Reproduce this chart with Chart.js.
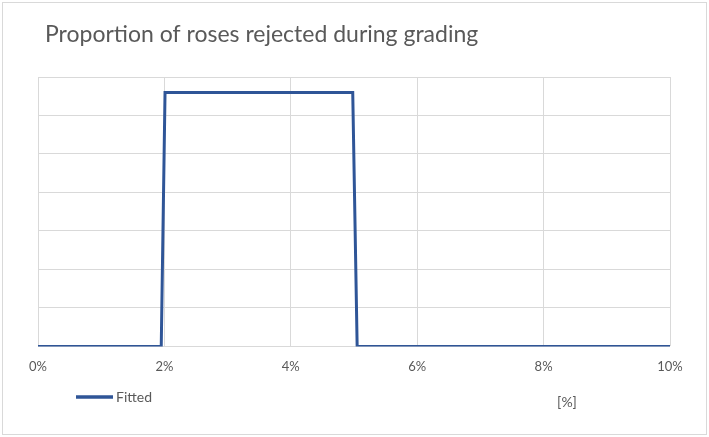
<!DOCTYPE html>
<html>
<head>
<meta charset="utf-8">
<script src="https://cdn.jsdelivr.net/npm/chart.js@4.4.0/dist/chart.umd.min.js"></script>
<style>
  html, body { margin: 0; padding: 0; background: #fff; }
  #wrap { width: 709px; height: 437px; }
</style>
</head>
<body>
<div id="wrap"><canvas id="roseChart" width="709" height="437"></canvas></div>
<script>
// data
const chartTitle = 'Proportion of roses rejected during grading';
const seriesName = 'Fitted';
const xTitle = '[%]';
const fittedX = [0, 1.95, 2.01, 4.98, 5.05, 10];   // %
const fittedY = [0, 0, 33, 33, 0, 0];
const xMin = 0, xMax = 10, xStep = 2;
const yMin = 0, yMax = 35, yStep = 5;

const textColor = '#595959';
const gridColor = '#d9d9d9';
const lineColor = '#2F5597';
const fontFamily = 'Lato, "Open Sans", sans-serif';

const points = fittedX.map((x, i) => ({ x: x, y: fittedY[i] }));

// frame, title, legend and axis title drawn by hand
const decorations = {
  id: 'decorations',
  beforeDraw(chart) {
    const c = chart.ctx;
    c.save();
    c.fillStyle = '#fff';
    c.fillRect(0, 0, chart.width, chart.height);
    c.strokeStyle = gridColor;
    c.lineWidth = 1;
    c.strokeRect(2.5, 2.5, chart.width - 5, chart.height - 5);
    c.restore();
  },
  afterDraw(chart) {
    const c = chart.ctx;
    const area = chart.chartArea;
    c.save();
    // title
    c.fillStyle = textColor;
    c.font = '23px ' + fontFamily;
    c.textAlign = 'left';
    c.textBaseline = 'middle';
    c.fillText(chartTitle, area.left + 7, 35);

    // legend
    const ds = chart.data.datasets[0];
    const ly = 397;
    c.strokeStyle = ds.borderColor;
    c.lineWidth = 3.5;
    c.beginPath();
    c.moveTo(area.left + 38, ly);
    c.lineTo(area.left + 75, ly);
    c.stroke();
    c.font = '14px ' + fontFamily;
    c.fillText(ds.label, area.left + 78, ly);

    // axis title
    c.textAlign = 'center';
    c.fillText(xTitle, 567, 402);
    c.restore();
  }
};

const chart = new Chart(document.getElementById('roseChart'), {
  type: 'scatter',
  data: {
    datasets: [{
      label: seriesName,
      data: points,
      showLine: true,
      borderColor: lineColor,
      backgroundColor: lineColor,
      borderWidth: 3,
      pointRadius: 0,
      tension: 0
    }]
  },
  options: {
    responsive: false,
    animation: false,
    layout: { padding: { left: 38, right: 39, top: 77, bottom: 49 } },
    plugins: {
      legend: { display: false },
      title: { display: false },
      tooltip: { enabled: false }
    },
    scales: {
      x: {
        type: 'linear',
        min: xMin,
        max: xMax,
        border: { display: false },
        grid: { color: gridColor, drawTicks: false },
        ticks: {
          stepSize: xStep,
          padding: 13,
          color: textColor,
          font: { family: fontFamily, size: 13 },
          callback: v => v + '%'
        }
      },
      y: {
        min: yMin,
        max: yMax,
        border: { display: false },
        grid: { color: gridColor, drawTicks: false },
        ticks: { stepSize: yStep, display: false }
      }
    }
  },
  plugins: [decorations]
});
</script>
</body>
</html>
